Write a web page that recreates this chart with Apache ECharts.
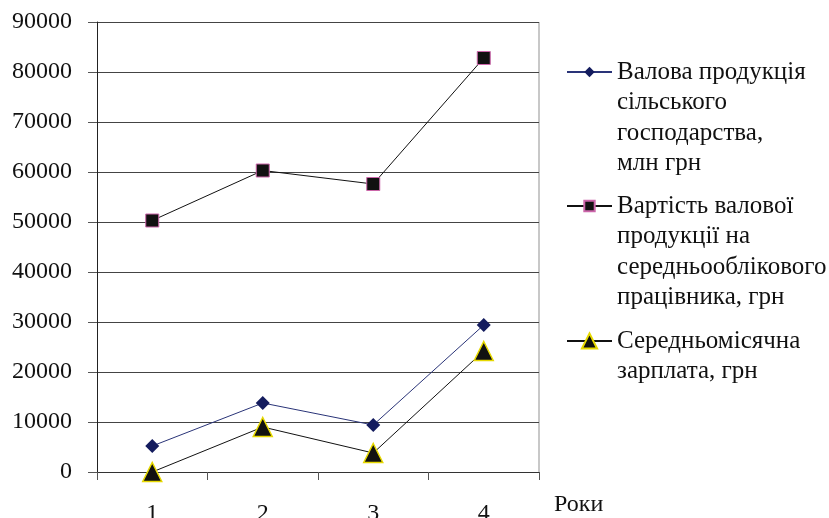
<!DOCTYPE html>
<html>
<head>
<meta charset="utf-8">
<script src="https://cdn.jsdelivr.net/npm/echarts@6/dist/echarts.min.js"></script>
<style>
html,body{margin:0;padding:0;background:#fff;}
#chart{width:829px;height:518px;}
</style>
</head>
<body>
<div id="chart"></div>
<script>
const categories = ['1', '2', '3', '4'];
const grossOutput = [5200, 13800, 9400, 29400];
const outputPerWorker = [50300, 60300, 57600, 82800];
const monthlyWage = [0, 9000, 3800, 24200];
const seriesNames = [
  'Валова продукція\nсільського\nгосподарства,\nмлн грн',
  'Вартість валової\nпродукції на\nсередньооблікового\nпрацівника, грн',
  'Середньомісячна\nзарплата, грн'
];
const yTicks = [0, 10000, 20000, 30000, 40000, 50000, 60000, 70000, 80000, 90000];

const FONT = '"Liberation Serif", "Times New Roman", serif';
const LH = 30.5;
const legendIconY = [72, 206, 341];
const legendIconH = [13, 13, 19];

function makeLegend(i) {
  const n = seriesNames[i].split('\n').length;
  const offset = (2 * n - 1) * LH / 2;
  return {
    data: [{ name: seriesNames[i] }],
    orient: 'vertical',
    left: 566,
    top: legendIconY[i] - offset,
    padding: 0,
    itemWidth: 45,
    itemHeight: legendIconH[i],
    itemGap: 0,
    selectedMode: false,
    formatter: function (name) {
      return '\n'.repeat(n - 1) + name;
    },
    textStyle: {
      fontFamily: FONT,
      fontSize: 25,
      color: '#111',
      lineHeight: LH
    }
  };
}

const chart = echarts.init(document.getElementById('chart'));
chart.setOption({
  animation: false,
  backgroundColor: '#fff',
  legend: [makeLegend(0), makeLegend(1), makeLegend(2)],
  grid: { left: 97, top: 22, right: 290, bottom: 46, containLabel: false, outerBoundsMode: 'none' },
  xAxis: {
    type: 'category',
    data: categories,
    boundaryGap: true,
    name: 'Роки',
    nameLocation: 'end',
    nameGap: 15,
    nameTextStyle: {
      fontFamily: FONT, fontSize: 24, color: '#111',
      verticalAlign: 'top', padding: [21, 0, 0, 0]
    },
    axisLine: { show: true, lineStyle: { color: '#333', width: 1 } },
    axisTick: { show: true, length: 8, alignWithLabel: false, lineStyle: { color: '#555' } },
    axisLabel: { fontFamily: FONT, fontSize: 24, color: '#111', margin: 30 },
    splitLine: { show: false }
  },
  yAxis: {
    type: 'value',
    min: 0,
    max: 90000,
    interval: 10000,
    axisLine: { show: true, lineStyle: { color: '#222', width: 1 } },
    axisTick: { show: true, length: 9, lineStyle: { color: '#555' } },
    axisLabel: {
      fontFamily: FONT, fontSize: 24, color: '#111', margin: 25,
      formatter: function (v) { return yTicks.indexOf(v) >= 0 ? String(v) : ''; }
    },
    splitLine: { show: true, lineStyle: { color: '#444', width: 1 } }
  },
  graphic: [{
    type: 'line',
    shape: { x1: 539, y1: 22, x2: 539, y2: 472 },
    style: { stroke: '#c8c8c8', lineWidth: 2 },
    silent: true
  }],
  series: [
    {
      name: seriesNames[0],
      type: 'line',
      data: grossOutput,
      symbol: 'diamond',
      symbolSize: 14,
      lineStyle: { color: '#2a3478', width: 1 },
      itemStyle: { color: '#141c5e', borderColor: '#141c5e', borderWidth: 0 },
      z: 3
    },
    {
      name: seriesNames[1],
      type: 'line',
      data: outputPerWorker,
      symbol: 'rect',
      symbolSize: 13,
      lineStyle: { color: '#111', width: 1 },
      itemStyle: { color: '#111', borderColor: '#cc66aa', borderWidth: 1 },
      z: 3
    },
    {
      name: seriesNames[2],
      type: 'line',
      data: monthlyWage,
      symbol: 'triangle',
      symbolSize: 19,
      lineStyle: { color: '#111', width: 1 },
      itemStyle: { color: '#111', borderColor: '#e6d800', borderWidth: 1.5 },
      z: 4
    }
  ]
});
</script>
</body>
</html>
